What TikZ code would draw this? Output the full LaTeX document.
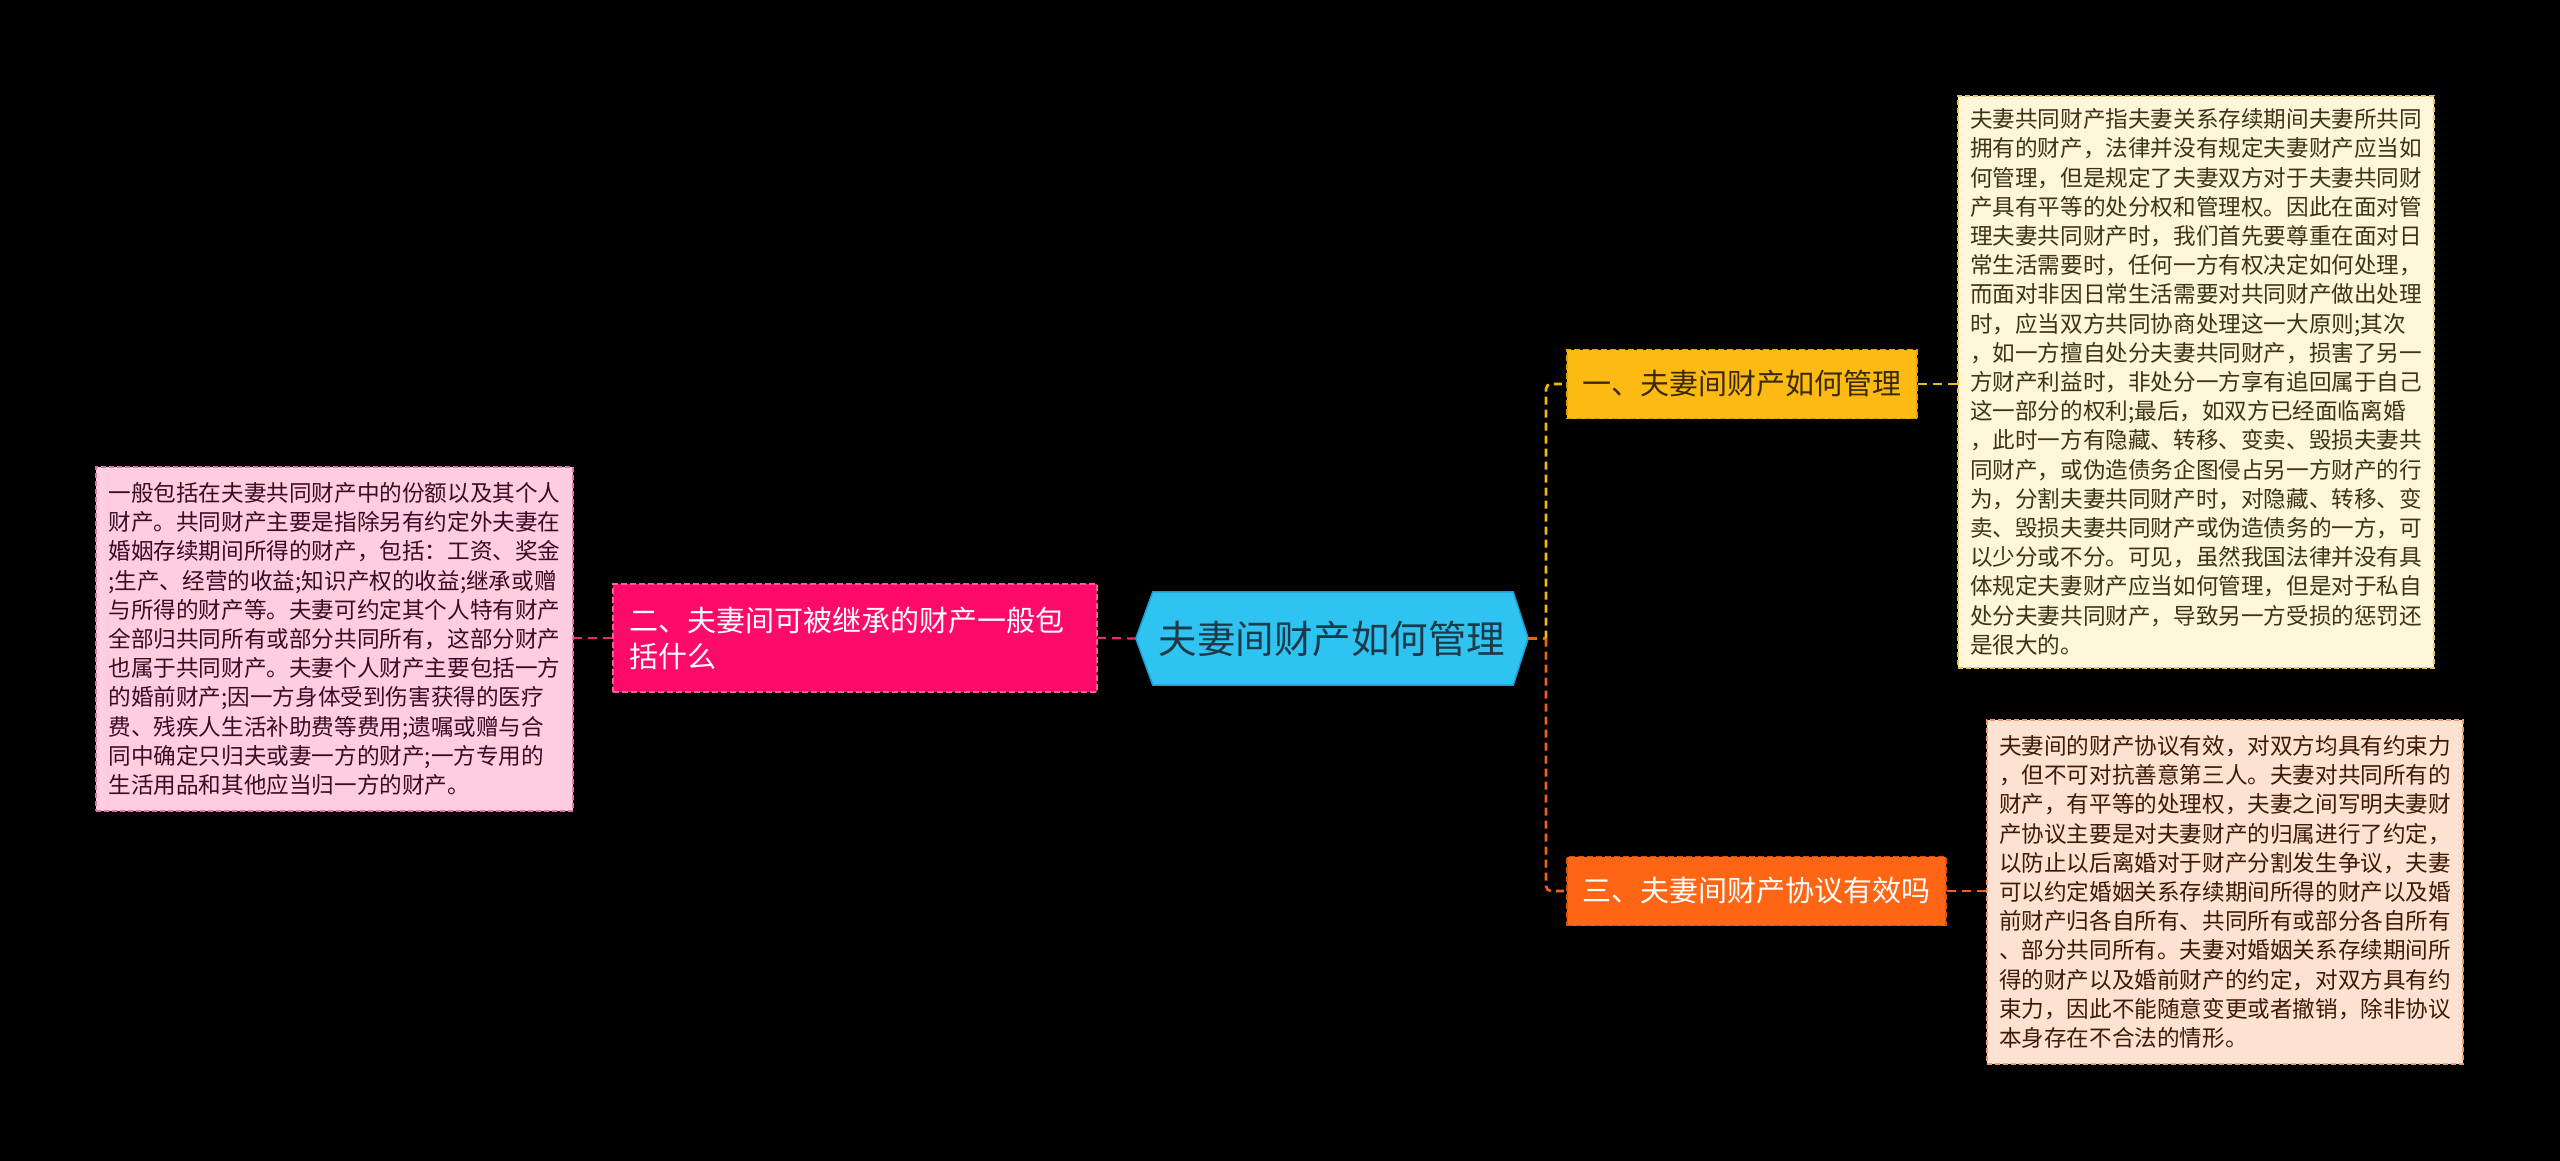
\documentclass[tikz,border=0pt]{standalone}
\usepackage{fontspec}
\setmainfont{Noto Sans CJK SC}
\usetikzlibrary{calc,backgrounds}
\definecolor{cyanfill}{HTML}{2FC3F2}
\definecolor{cyanline}{HTML}{1AA0D0}
\definecolor{centertext}{HTML}{1C3A4A}
\definecolor{pinkfill}{HTML}{FE0A6B}
\definecolor{pinkborder}{HTML}{FF5C9A}
\definecolor{pinkline}{HTML}{E0306F}
\definecolor{lbfill}{HTML}{FFCCE0}
\definecolor{lbborder}{HTML}{E0709F}
\definecolor{lbtext}{HTML}{3D0A24}
\definecolor{yelfill}{HTML}{FDBA12}
\definecolor{yelborder}{HTML}{E0A000}
\definecolor{yeltext}{HTML}{3A2A00}
\definecolor{yelline}{HTML}{F0B810}
\definecolor{trfill}{HTML}{FFF6D8}
\definecolor{trborder}{HTML}{EAC050}
\definecolor{trtext}{HTML}{3D3416}
\definecolor{orfill}{HTML}{FE6514}
\definecolor{orborder}{HTML}{E05000}
\definecolor{orline}{HTML}{F06018}
\definecolor{brfill}{HTML}{FDE2D2}
\definecolor{brborder}{HTML}{F09870}
\definecolor{brtext}{HTML}{3D1A0A}
\begin{document}
\begin{tikzpicture}[x=1pt,y=-1pt,
  textbox/.style={rectangle, dash pattern=on 5pt off 3pt, line width=1.3pt,
    inner xsep=12pt, inner ysep=6pt, align=left, text width=452pt,
    font=\fontsize{22.6}{29.2}\selectfont},
  topic/.style={rectangle, dash pattern=on 6pt off 3pt, line width=1.3pt,
    inner xsep=15pt, align=left, font=\fontsize{29}{36}\selectfont},
  conn/.style={line width=2.2pt, dash pattern=on 9pt off 6pt},
  vconn/.style={line width=2.6pt, dash pattern=on 8pt off 5pt}]
\begin{scope}[on background layer]
\fill[black] (0,0) rectangle (2560,1161);
\end{scope}
\useasboundingbox (0,0) rectangle (2560,1161);

% central node
\node[minimum width=392pt, minimum height=93pt, inner sep=0pt,
  text=centertext, font=\fontsize{38.5}{44}\selectfont] (c) at (1332,638.5) {夫妻间财产如何管理};
\begin{scope}[on background layer]
\draw[fill=cyanfill, draw=cyanline, line width=1.5pt]
  (c.west) -- ($(c.north west)+(17,0)$) -- ($(c.north east)+(-15,0)$) -- (c.east)
  -- ($(c.south east)+(-15,0)$) -- ($(c.south west)+(17,0)$) -- cycle;
\end{scope}

% left branch
\node[topic, draw=pinkborder, fill=pinkfill, text=white, minimum width=484pt,
  minimum height=108pt, text width=452pt, inner xsep=16pt] (p) at (855,638)
  {二、夫妻间可被继承的财产一般包\\括什么};
\node[textbox, draw=lbborder, fill=lbfill, text=lbtext, minimum width=477pt,
  minimum height=344pt] (lb) at (334.5,639)
  {一般包括在夫妻共同财产中的份额以及其个人\\
财产。共同财产主要是指除另有约定外夫妻在\\
婚姻存续期间所得的财产，包括：工资、奖金\\
;生产、经营的收益;知识产权的收益;继承或赠\\
与所得的财产等。夫妻可约定其个人特有财产\\
全部归共同所有或部分共同所有，这部分财产\\
也属于共同财产。夫妻个人财产主要包括一方\\
的婚前财产;因一方身体受到伤害获得的医疗\\
费、残疾人生活补助费等费用;遗嘱或赠与合\\
同中确定只归夫或妻一方的财产;一方专用的\\
生活用品和其他应当归一方的财产。};

% right branch
\node[topic, draw=yelborder, fill=yelfill, text=yeltext, minimum width=350pt,
  minimum height=69pt] (y) at (1742,384) {一、夫妻间财产如何管理};
\node[topic, draw=orborder, fill=orfill, text=white, minimum width=379pt,
  minimum height=69pt] (o) at (1756.5,891) {三、夫妻间财产协议有效吗};

\node[textbox, draw=trborder, fill=trfill, text=trtext, minimum width=476pt,
  minimum height=572pt] (tr) at (2196,382)
  {夫妻共同财产指夫妻关系存续期间夫妻所共同\\
拥有的财产，法律并没有规定夫妻财产应当如\\
何管理，但是规定了夫妻双方对于夫妻共同财\\
产具有平等的处分权和管理权。因此在面对管\\
理夫妻共同财产时，我们首先要尊重在面对日\\
常生活需要时，任何一方有权决定如何处理，\\
而面对非因日常生活需要对共同财产做出处理\\
时，应当双方共同协商处理这一大原则;其次\\
，如一方擅自处分夫妻共同财产，损害了另一\\
方财产利益时，非处分一方享有追回属于自己\\
这一部分的权利;最后，如双方已经面临离婚\\
，此时一方有隐藏、转移、变卖、毁损夫妻共\\
同财产，或伪造债务企图侵占另一方财产的行\\
为，分割夫妻共同财产时，对隐藏、转移、变\\
卖、毁损夫妻共同财产或伪造债务的一方，可\\
以少分或不分。可见，虽然我国法律并没有具\\
体规定夫妻财产应当如何管理，但是对于私自\\
处分夫妻共同财产，导致另一方受损的惩罚还\\
是很大的。};

\node[textbox, draw=brborder, fill=brfill, text=brtext, minimum width=476pt,
  minimum height=344pt] (br) at (2225,892)
  {夫妻间的财产协议有效，对双方均具有约束力\\
，但不可对抗善意第三人。夫妻对共同所有的\\
财产，有平等的处理权，夫妻之间写明夫妻财\\
产协议主要是对夫妻财产的归属进行了约定，\\
以防止以后离婚对于财产分割发生争议，夫妻\\
可以约定婚姻关系存续期间所得的财产以及婚\\
前财产归各自所有、共同所有或部分各自所有\\
、部分共同所有。夫妻对婚姻关系存续期间所\\
得的财产以及婚前财产的约定，对双方具有约\\
束力，因此不能随意变更或者撤销，除非协议\\
本身存在不合法的情形。};

% connectors
\begin{scope}[on background layer]
\draw[conn, pinkline] (c.west) -- (p.east);
\draw[conn, pinkline] (p.west) -- (p.west -| lb.east);
\coordinate (j) at (1546,638.5);
\draw[conn, orline] (c.east) -- (j);
\draw[vconn, yelline, rounded corners=5pt] (j) |- (y.west);
\draw[vconn, orline, rounded corners=5pt] (j) |- (o.west);
\draw[conn, yelline] (y.east) -- (y.east -| tr.west);
\draw[conn, orline] (o.east) -- (o.east -| br.west);
\end{scope}
\end{tikzpicture}
\end{document}
